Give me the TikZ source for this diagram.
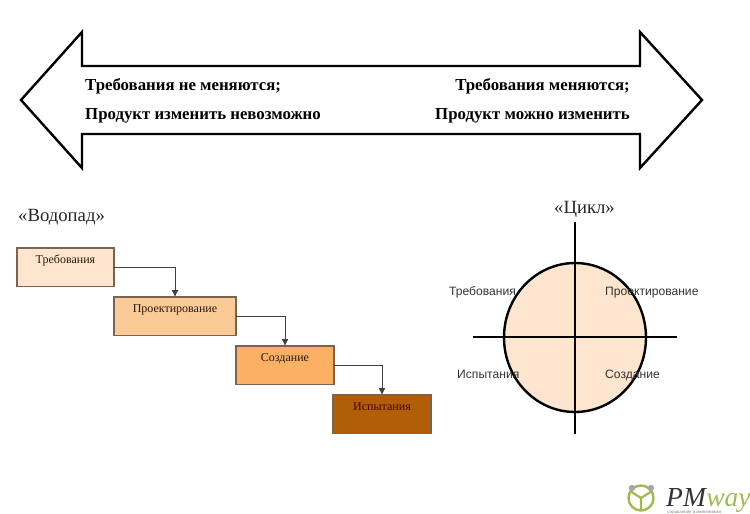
\documentclass[tikz,border=0pt]{standalone}
\usepackage{fontspec}
\setmainfont{Liberation Serif}
\newfontfamily\labelfont{Liberation Sans}
\usetikzlibrary{shapes.geometric, arrows.meta, positioning}
\definecolor{reqfill}{HTML}{FDE5CF}
\definecolor{designfill}{HTML}{FBCB97}
\definecolor{buildfill}{HTML}{FBB064}
\definecolor{testfill}{HTML}{B05E08}
\definecolor{logogreen}{HTML}{9DBB4E}
\definecolor{boxedge}{HTML}{7A6450}

\begin{document}
\begin{tikzpicture}[
        x=1pt, y=-1pt,
        box node/.style={
            rectangle,
            draw=boxedge,
            line width=1.2pt,
            inner sep=0pt,
            outer sep=0pt,
            text height=15.5pt,
            text depth=23pt,
            text centered,
            font=\fontsize{12}{14}\selectfont,
            text=black!80!brown
        },
        flow_arrow/.style={
            -{Latex[length=7pt, width=7pt]},
            line width=0.9pt,
            black!75
        },
        axis_line/.style={line width=2.4pt, black},
        head_label/.style={font=\fontsize{16.8}{20}\selectfont\bfseries, inner sep=0pt},
        title_label/.style={font=\fontsize{18.7}{22}\selectfont, text=black!85, inner sep=0pt},
        cycle_label/.style={font=\labelfont\fontsize{12.1}{15}\selectfont, text=black!80, inner sep=0pt},
        logo_label/.style={inner sep=0pt, anchor=base west, font=\fontsize{27.5}{30}\selectfont\itshape}
    ]
        \useasboundingbox (0,0) rectangle (750,514);

        % --- TOP DOUBLE ARROW ---
        \draw[line width=2.4pt, miter limit=10] (21,100) -- (82,32) -- (82,66) -- (640,66) -- (640,32)
            -- (702,100) -- (640,168) -- (640,134) -- (82,134) -- (82,168) -- cycle;

        \node[head_label, anchor=base west] (fixedreq) at (85,90) {Требования не меняются;};
        \node[head_label, anchor=base west] (fixedprod) at (85,119) {Продукт изменить невозможно};
        \node[head_label, anchor=base east] (openreq) at (630,90) {Требования меняются;};
        \node[head_label, anchor=base east] (openprod) at (630,119) {Продукт можно изменить};

        % --- WATERFALL ---
        \node[title_label, anchor=west] (waterfall) at (18,217) {«Водопад»};

        \node[box node, anchor=north west, minimum width=97pt, fill=reqfill] (req) at (17,248) {Требования};
        \node[box node, below right=10.5pt and 0pt of req, minimum width=122pt, fill=designfill] (design) {Проектирование};
        \node[box node, below right=10.5pt and 0pt of design, minimum width=98pt, fill=buildfill] (build) {Создание};
        \node[box node, below right=10.5pt and -1pt of build, minimum width=98pt, fill=testfill, text=black!70!red] (test) {Испытания};

        \draw[flow_arrow] (req) -| (design);
        \draw[flow_arrow] (design) -| (build);
        \draw[flow_arrow] (build) -| (test);

        % --- CYCLE ---
        \node[title_label, anchor=center] (cycle) at (584.5,209) {«Цикл»};

        \node[ellipse, draw, line width=2.4pt, fill=reqfill, inner sep=0pt, outer sep=0pt, minimum width=142pt, minimum height=149pt] (wheel) at (575,337.5) {};

        \coordinate (top) at (575,222);
        \coordinate (bottom) at (575,434);
        \coordinate (left) at (473,337);
        \coordinate (right) at (677,337);
        \draw[axis_line] (top) -- (bottom);
        \draw[axis_line] (left) -- (right);

        \node[cycle_label, anchor=base west] (creq) at (449,295.5) {Требования};
        \node[cycle_label, anchor=base west] (cdesign) at (605,295.5) {Проектирование};
        \node[cycle_label, anchor=base west] (ctest) at (457,378) {Испытания};
        \node[cycle_label, anchor=base west] (cbuild) at (605,378) {Создание};

        % --- LOGO ---
        \draw[logogreen, line width=2.4pt] (641,498) circle (12.5pt);
        \draw[logogreen, line width=2.2pt] (641,498) -- (641,510) (641,498) -- (630,491) (641,498) -- (652,491);
        \fill[gray!70] (632,488) circle (3.2pt) (651,488) circle (3.2pt);
        \node[logo_label, text=black!80] (logopm) at (666,506) {PM};
        \node[logo_label, text=logogreen] (logoway) at (logopm.base east) {way};
        \node[inner sep=0pt, anchor=base west, font=\fontsize{5}{6}\selectfont, text=gray] (motto) at (667,513.5) {управление изменениями};
    \end{tikzpicture}
\end{document}
